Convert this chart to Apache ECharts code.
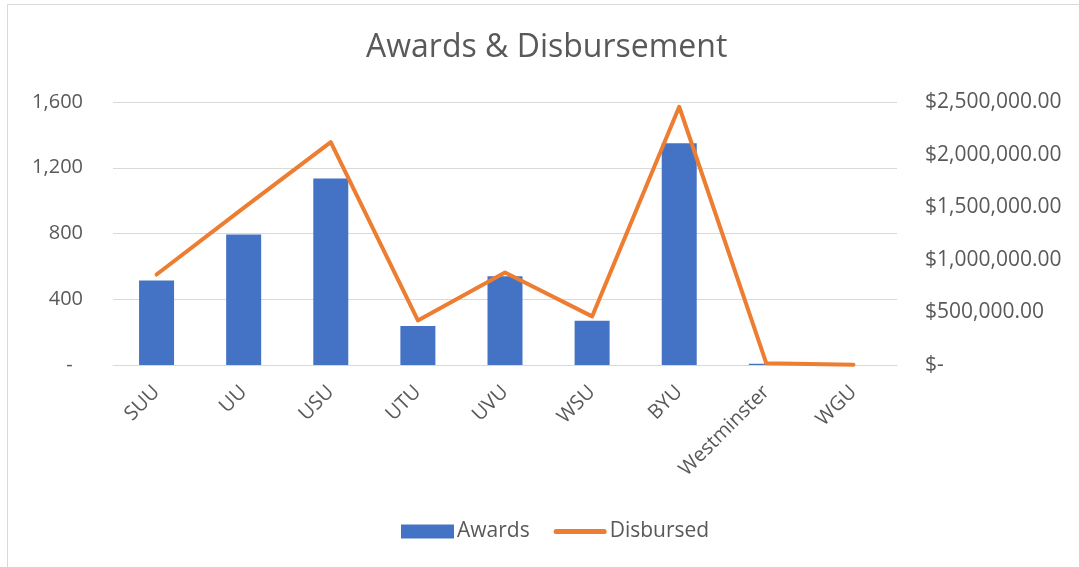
<!DOCTYPE html>
<html lang="en">
    <head>
        <meta charset="UTF-8">
        <script src="https://cdn.jsdelivr.net/npm/echarts@6.0.0/dist/echarts.min.js"></script>
        <title>Awards & Disbursement</title>
        <style>
            html, body { margin: 0; padding: 0; background: #fff; }
        </style>
    </head>
    <body>
        <div id="chart-container" style="width: 1079px; height: 567px;"></div>

        <script>
            // data
            const schools = ['SUU', 'UU', 'USU', 'UTU', 'UVU', 'WSU', 'BYU', 'Westminster', 'WGU'];
            const awards = [514, 794, 1135, 238, 540, 269, 1349, 8, 0];
            const disbursed = [860000, 1494000, 2118000, 424000, 879000, 462000, 2455000, 16000, 2000];

            const textColor = '#595959';
            const font = '"Open Sans", sans-serif';

            const chart = echarts.init(document.getElementById('chart-container'));
            const options = {
                animation: false,
                textStyle: { fontFamily: font },
                title: {
                    text: 'Awards & Disbursement',
                    left: 361,
                    top: 27,
                    textStyle: { color: textColor, fontSize: 32, fontWeight: 'normal', fontFamily: font }
                },
                legend: {
                    top: 516,
                    left: 396,
                    itemGap: 24,
                    itemWidth: 53,
                    itemHeight: 14,
                    textStyle: { color: textColor, fontSize: 21, fontFamily: font, padding: [0, 0, 0, -2] },
                    data: [
                        { name: 'Awards', icon: 'rect' },
                        { name: 'Disbursed', icon: 'path://M3,4 L50,4 A2.5,2.5 0 0 1 50,9 L3,9 A2.5,2.5 0 0 1 3,4 Z' }
                    ]
                },
                grid: { left: 113, right: 182, top: 102, bottom: 202 },
                xAxis: {
                    type: 'category',
                    data: schools,
                    axisTick: { show: false },
                    axisLine: { lineStyle: { color: '#D9D9D9', width: 1 } },
                    axisLabel: {
                        rotate: 45, margin: 24,
                        color: textColor, fontSize: 20, fontFamily: font, interval: 0
                    }
                },
                yAxis: [
                    {
                        type: 'value',
                        min: 0, max: 1600, interval: 400,
                        axisLine: { show: false },
                        axisTick: { show: false },
                        splitLine: { lineStyle: { color: '#D9D9D9', width: 1 } },
                        axisLabel: {
                            margin: 30, color: textColor, fontSize: 20, fontFamily: font,
                            formatter: v => v === 0 ? '-  ' : v.toLocaleString('en-US')
                        }
                    },
                    {
                        type: 'value',
                        min: 0, max: 2500000, interval: 500000,
                        axisLine: { show: false },
                        axisTick: { show: false },
                        splitLine: { show: false },
                        axisLabel: {
                            margin: 28, color: textColor, fontSize: 21, fontFamily: font,
                            formatter: v => v === 0 ? '$-' : '$' + v.toLocaleString('en-US', { minimumFractionDigits: 2 })
                        }
                    }
                ],
                series: [
                    {
                        name: 'Awards',
                        type: 'bar',
                        data: awards,
                        barWidth: 35,
                        itemStyle: { color: '#4472C4' }
                    },
                    {
                        name: 'Disbursed',
                        type: 'line',
                        yAxisIndex: 1,
                        data: disbursed,
                        symbol: 'none',
                        lineStyle: { color: '#ED7D31', width: 4, cap: 'round', join: 'round' },
                        itemStyle: { color: '#ED7D31' }
                    }
                ],
                graphic: [
                    {
                        type: 'rect',
                        shape: { x: 7.5, y: 4.5, width: 1100, height: 600 },
                        style: { fill: 'none', stroke: '#D9D9D9', lineWidth: 1 },
                        silent: true
                    }
                ]
            };
            chart.setOption(options);
        </script>
    </body>
</html>
